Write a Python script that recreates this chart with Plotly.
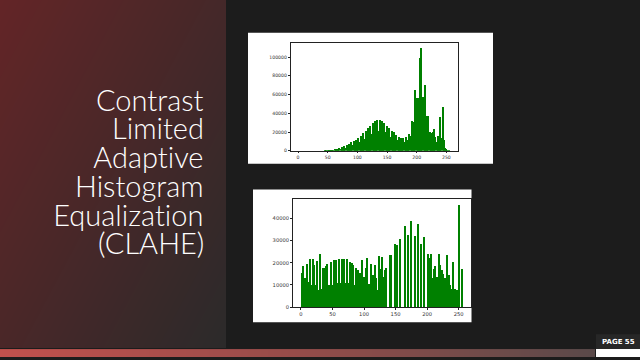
import numpy as np
import plotly.graph_objects as go

# ---------------- data ----------------
# histogram counts (thousands) for 2-unit wide bins with left edges 0,2,...,254
hist1_k = [0]*22 + [
    0.3, 0.5, 0.8, 0.6, 1.0, 0.7, 1.5, 1.0, 2.0, 1.4,
    2.5, 1.8, 3.2, 2.3, 4.0, 2.8, 5.5, 3.5, 6.5, 4.5,
    8.0, 5.2, 9.5, 6.2, 11.0, 7.2, 12.0, 8.5, 14.0, 9.5,
    16.5, 11.0, 19.0, 13.0, 21.0, 15.0, 25.0, 17.0, 27.0, 18.5,
    30.0, 20.0, 32.0, 21.0, 33.0, 21.5, 33.0, 21.5, 32.0, 21.0,
    30.0, 20.0, 27.0, 18.0, 25.0, 15.0, 22.0, 13.0, 20.0, 13.0,
    17.0, 12.0, 15.0, 11.0, 14.5, 10.5, 14.0, 10.0, 15.0, 11.0,
    12.0, 18.0, 16.0, 32.0, 31.0, 30.0, 65.0, 57.0, 57.0, 57.0,
    100.0, 110.0, 58.0, 58.0, 71.0, 36.0, 37.0, 38.0, 20.0, 19.0,
    16.0, 20.0, 24.0, 15.0, 10.0, 16.0, 15.0, 36.0, 14.0, 47.0,
    12.0, 3.0, 2.5, 1.0, 0.3, 0.0,
]
hist2_k = [
    15.5, 18.3, 13.0, 13.0, 19.3, 11.5, 11.5, 21.5, 10.0, 21.5,
    19.0, 10.0, 20.8, 7.6, 7.6, 23.8, 8.2, 17.8, 17.8, 18.6,
    19.3, 10.0, 10.0, 20.3, 10.0, 10.0, 21.2, 21.2, 11.0, 11.0,
    21.5, 11.0, 21.5, 11.0, 21.5, 11.0, 21.5, 11.0, 20.5, 10.5,
    20.0, 19.0, 10.0, 17.8, 9.5, 16.5, 15.5, 13.0, 21.0, 13.5,
    13.5, 17.5, 22.0, 10.5, 10.5, 19.5, 14.5, 14.5, 19.0, 13.0,
    7.5, 23.0, 17.0, 17.0, 22.5, 13.5, 16.5, 17.5, 0, 0,
    23.5, 23.3, 0, 0, 28.6, 0, 27.8, 0, 30.5, 0,
    0, 0, 36.5, 0, 32.5, 0, 0, 39.0, 0, 0,
    32.0, 0, 37.3, 0, 0, 28.6, 0, 31.6, 0, 0,
    23.8, 22.3, 13.0, 24.0, 13.0, 17.0, 18.6, 13.5, 13.5, 24.0,
    19.0, 16.5, 15.0, 13.0, 13.0, 23.5, 10.0, 14.5, 10.0, 8.0,
    20.5, 8.0, 8.0, 7.7, 0, 46.0, 0, 17.3,
]
bin_width = 2
x_ticks = [0, 50, 100, 150, 200, 250]
h1_yticks = [0, 20000, 40000, 60000, 80000, 100000]
h2_yticks = [0, 10000, 20000, 30000, 40000]
title_lines = ["Contrast", "Limited", "Adaptive", "Histogram", "Equalization", "(CLAHE)"]
page_label = "PAGE 55"

# ---------------- helpers ----------------
W, H = 640, 360
def px(x):
    return x / W
def py(y):
    return 1 - y / H

centers = np.arange(0, 256, bin_width) + bin_width / 2
GREEN = "#008000"

fig = go.Figure()

fig.add_trace(go.Bar(x=centers, y=np.array(hist1_k) * 1000, width=bin_width,
                     marker=dict(color=GREEN, line=dict(width=0)),
                     xaxis="x", yaxis="y", hoverinfo="skip", showlegend=False))
fig.add_trace(go.Bar(x=centers, y=np.array(hist2_k) * 1000, width=bin_width,
                     marker=dict(color=GREEN, line=dict(width=0)),
                     xaxis="x2", yaxis="y2", hoverinfo="skip", showlegend=False))

# left panel gradient background
fig.add_trace(go.Heatmap(z=[[0.55, 0.0], [1.0, 0.45]], x=[0, 1], y=[0, 1],
                         zsmooth="best", zmin=0, zmax=1,
                         colorscale=[[0, "#2b2a2a"], [1, "#632527"]],
                         showscale=False, hoverinfo="skip",
                         xaxis="x3", yaxis="y3"))
# bottom bar gradient
fig.add_trace(go.Heatmap(z=[[0, 1]], x=[0, 1], y=[0],
                         zsmooth="best", zmin=0, zmax=1,
                         colorscale=[[0, "#c2514d"], [0.5, "#964c4a"], [1, "#5a4a4a"]],
                         showscale=False, hoverinfo="skip",
                         xaxis="x4", yaxis="y4"))

tickfont1 = dict(family="DejaVu Sans", size=4.6, color="#333")
tickfont2 = dict(family="DejaVu Sans", size=5.2, color="#333")
common_ax = dict(showline=True, mirror=True, linecolor="#222", linewidth=0.5,
                 ticks="outside", ticklen=2, tickwidth=0.5, tickcolor="#222",
                 showgrid=False, zeroline=False, fixedrange=True)

hidden = dict(visible=False, range=[0, 1], fixedrange=True)

fig.update_layout(
    width=W, height=H, autosize=False,
    margin=dict(l=0, r=0, t=0, b=0, pad=0),
    paper_bgcolor="#1c1c1c", plot_bgcolor="rgba(0,0,0,0)",
    bargap=0, showlegend=False,
    xaxis=dict(domain=[px(290.5), px(457.5)], range=[-12.8, 268.8], anchor="y",
               tickvals=x_ticks, ticktext=[str(v) for v in x_ticks], tickfont=tickfont1, **common_ax),
    yaxis=dict(domain=[py(152), py(43)], range=[0, 115500], anchor="x",
               tickvals=h1_yticks, ticktext=[str(v) for v in h1_yticks], tickfont=tickfont1, **common_ax),
    xaxis2=dict(domain=[px(292.9), px(470.5)], range=[-12.8, 268.8], anchor="y2",
                tickvals=x_ticks, ticktext=[str(v) for v in x_ticks], tickfont=tickfont2, **common_ax),
    yaxis2=dict(domain=[py(309.7), py(200.7)], range=[0, 48700], anchor="x2",
                tickvals=h2_yticks, ticktext=[str(v) for v in h2_yticks], tickfont=tickfont2, **common_ax),
    xaxis3=dict(domain=[0, px(226)], anchor="y3", **hidden),
    yaxis3=dict(domain=[py(351), 1], anchor="x3", **hidden),
    xaxis4=dict(domain=[0, px(595)], anchor="y4", **hidden),
    yaxis4=dict(domain=[0, py(352)], anchor="x4", visible=False, range=[-0.5, 0.5], fixedrange=True),
)

shapes = [
    dict(type="rect", xref="paper", yref="paper", x0=px(248), x1=px(493), y0=py(165), y1=py(33),
         fillcolor="white", line=dict(width=0), layer="below"),
    dict(type="rect", xref="paper", yref="paper", x0=px(253), x1=px(471.5), y0=py(325), y1=py(191),
         fillcolor="white", line=dict(width=0), layer="below"),
    dict(type="rect", xref="paper", yref="paper", x0=px(596), x1=1, y0=py(352), y1=py(337),
         fillcolor="#272727", line=dict(width=0), layer="below"),
    dict(type="rect", xref="paper", yref="paper", x0=px(596), x1=1, y0=0, y1=py(352),
         fillcolor="white", line=dict(width=0), layer="above"),
]
fig.update_layout(shapes=shapes)

line_centers = [100, 129, 158, 187, 216, 245]
annotations = []
for txt, yc in zip(title_lines, line_centers):
    annotations.append(dict(text=txt, xref="paper", yref="paper", x=px(206), y=py(yc),
                            xanchor="right", yanchor="middle", showarrow=False,
                            font=dict(family="Lato", size=29, color="white", weight=300)))
annotations.append(dict(text="<b>" + page_label + "</b>", xref="paper", yref="paper",
                        x=px(618), y=py(344.5), xanchor="center", yanchor="middle",
                        showarrow=False, font=dict(family="DejaVu Sans", size=7, color="white")))
fig.update_layout(annotations=annotations)

page_css = ("document.body.style.margin='0';document.body.style.overflow='hidden';"
            "var s=document.createElement('style');"
            "s.textContent='text{font-variant-ligatures:none !important;font-feature-settings:\"liga\" 0,\"clig\" 0,\"dlig\" 0 !important;}';"
            "document.head.appendChild(s);")
fig.write_html("out.html", config={"displayModeBar": False}, post_script=page_css)
